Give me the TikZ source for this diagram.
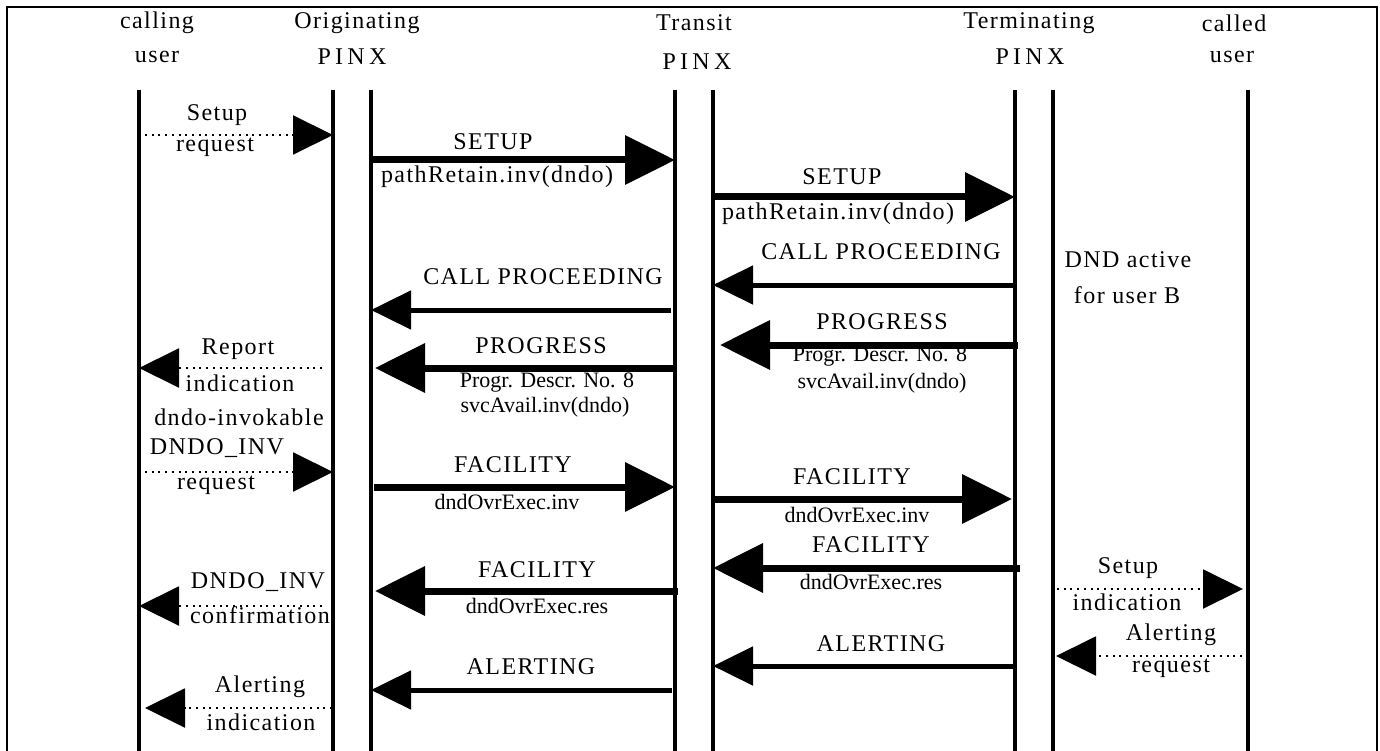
\documentclass[tikz,border=0pt]{standalone}
\usepackage{fontspec}
\setmainfont{Liberation Serif}
\newfontfamily\spcfont[LetterSpace=6]{Liberation Serif}
\newfontfamily\pinxfont[LetterSpace=18]{Liberation Serif}
\usetikzlibrary{arrows.meta,calc}

\begin{document}
\begin{tikzpicture}[
    x=1pt, y=-1pt,
    every node/.style={inner sep=0pt},
    lbl/.style={font=\fontsize{24}{27}\selectfont\spcfont},
    pinx/.style={font=\fontsize{24}{27}\selectfont\pinxfont},
    plain/.style={font=\fontsize{22}{25}\selectfont},
    life/.style={line width=4pt},
    bigmsg/.style={line width=7pt, -{Triangle[length=50pt,width=48pt]}},
    smallmsg/.style={line width=5pt, -{Triangle[length=40pt,width=38pt]}},
    prim/.style={line width=2pt, dash pattern=on 2pt off 4.7pt,
                 -{Triangle[length=40pt,width=39pt]}},
  ]

  \useasboundingbox (0,0) rectangle (1380,751);

  % ------------------------------------------------------------------
  % frame (open at the bottom) and column headings
  % ------------------------------------------------------------------
  \draw[line width=2pt] (7,751) -- (7,7) -- (1377,7) -- (1377,751);

  \node[lbl]  (hA1) at (157,23)  {calling};
  \node[lbl]  (hA2) at (157,57)  {user};
  \node[lbl]  (hO1) at (357,23)  {Originating};
  \node[pinx] (hO2) at (352,57)  {PINX};
  \node[lbl]  (hT1) at (694,23)  {Transit};
  \node[pinx] (hT2) at (697,62)  {PINX};
  \node[lbl]  (hE1) at (1029,23) {Terminating};
  \node[pinx] (hE2) at (1030,57) {PINX};
  \node[lbl]  (hB1) at (1234,23) {called};
  \node[lbl]  (hB2) at (1232,57) {user};

  % ------------------------------------------------------------------
  % lifelines
  % ------------------------------------------------------------------
  \coordinate (cA) at (139,90);   % calling user
  \coordinate (oL) at (333,90);   % originating PINX
  \coordinate (oR) at (371,90);
  \coordinate (tL) at (675,90);   % transit PINX
  \coordinate (tR) at (713,90);
  \coordinate (eL) at (1015,90);  % terminating PINX
  \coordinate (eR) at (1053,90);
  \coordinate (cB) at (1248,90);  % called user
  \foreach \l in {cA,oL,oR,tL,tR,eL,eR,cB}
    \draw[life] (\l) -- (\l |- 0,751);

  % ------------------------------------------------------------------
  % call set-up
  % ------------------------------------------------------------------
  \draw[prim] ($(cA |- 0,135)+(6,0)$) -- (oL |- 0,135);
  \node[lbl] (sr1) at (217,115) {Setup};
  \node[lbl] (sr2) at (215,147) {request};

  \draw[bigmsg] (oR |- 0,160) -- (tL |- 0,160);
  \node[lbl] (su1) at (493,142) {SETUP};
  \node[lbl] (su2) at (497,177) {pathRetain.inv(dndo)};

  \draw[bigmsg] (tR |- 0,197) -- (eL |- 0,197);
  \node[lbl] (su3) at (842,177) {SETUP};
  \node[lbl] (su4) at (838,214) {pathRetain.inv(dndo)};

  \node[lbl] (dnd1) at (1128,260) {DND active};
  \node[lbl] (dnd2) at (1127,295) {for user B};

  \draw[smallmsg] (eL |- 0,285) -- (tR |- 0,285);
  \node[lbl] (cp1) at (881,252) {CALL PROCEEDING};

  \draw[smallmsg] ($(tL |- 0,310)+(-4,0)$) -- (oR |- 0,310);
  \node[lbl] (cp2) at (543,277) {CALL PROCEEDING};

  % ------------------------------------------------------------------
  % progress with service availability
  % ------------------------------------------------------------------
  \draw[bigmsg] ($(eL |- 0,345)+(3,0)$) -- ($(tR |- 0,345)+(7,0)$);
  \node[lbl]   (pg1) at (882,322) {PROGRESS};
  \node[plain] (pg2) at (880,357) {Progr. Descr. No. 8};
  \node[plain] (pg3) at (882,383) {svcAvail.inv(dndo)};

  \draw[bigmsg] ($(tL |- 0,368)+(2,0)$) -- ($(oR |- 0,368)+(4,0)$);
  \node[lbl]   (pg4) at (541,346) {PROGRESS};
  \node[plain] (pg5) at (547,383) {Progr. Descr. No. 8};
  \node[plain] (pg6) at (545,407) {svcAvail.inv(dndo)};

  \draw[prim] ($(oL |- 0,368)+(-11,0)$) -- (cA |- 0,368);
  \node[lbl] (ri1) at (238,349) {Report};
  \node[lbl] (ri2) at (240,383) {indication};
  \node[lbl] (inv) at (239,417) {dndo-invokable};

  % ------------------------------------------------------------------
  % do-not-disturb override invocation
  % ------------------------------------------------------------------
  \draw[prim] ($(cA |- 0,472)+(6,0)$) -- (oL |- 0,472);
  \node[lbl] (dr1) at (217,448) {DNDO\_INV};
  \node[lbl] (dr2) at (216,485) {request};

  \draw[bigmsg] ($(oR |- 0,487)+(3,0)$) -- (tL |- 0,487);
  \node[lbl]   (fa1) at (513,465) {FACILITY};
  \node[plain] (fa2) at (507,502) {dndOvrExec.inv};

  \draw[bigmsg] (tR |- 0,499) -- ($(eL |- 0,499)+(-3,0)$);
  \node[lbl]   (fa3) at (852,477) {FACILITY};
  \node[plain] (fa4) at (857,515) {dndOvrExec.inv};

  \draw[bigmsg] ($(eL |- 0,568)+(5,0)$) -- (tR |- 0,568);
  \node[lbl]   (fa5) at (871,545) {FACILITY};
  \node[plain] (fa6) at (871,582) {dndOvrExec.res};

  \draw[bigmsg] ($(tL |- 0,591)+(3,0)$) -- ($(oR |- 0,591)+(4,0)$);
  \node[lbl]   (fa7) at (537,570) {FACILITY};
  \node[plain] (fa8) at (537,606) {dndOvrExec.res};

  \draw[prim] ($(oL |- 0,606)+(-11,0)$) -- (cA |- 0,606);
  \node[lbl] (dc1) at (258,582) {DNDO\_INV};
  \node[lbl] (dc2) at (260,615) {confirmation};

  % ------------------------------------------------------------------
  % called user alerted
  % ------------------------------------------------------------------
  \draw[prim] ($(eR |- 0,589)+(4,0)$) -- ($(cB |- 0,589)+(-5,0)$);
  \node[lbl] (si1) at (1128,568) {Setup};
  \node[lbl] (si2) at (1127,602) {indication};

  \draw[prim] ($(cB |- 0,656)+(-6,0)$) -- ($(eR |- 0,656)+(3,0)$);
  \node[lbl] (ar1) at (1171,635) {Alerting};
  \node[lbl] (ar2) at (1171,668) {request};

  \draw[smallmsg] ($(eL |- 0,666)+(-2,0)$) -- (tR |- 0,666);
  \node[lbl] (al1) at (881,644) {ALERTING};

  \draw[smallmsg] ($(tL |- 0,690)+(-3,0)$) -- (oR |- 0,690);
  \node[lbl] (al2) at (531,667) {ALERTING};

  \draw[prim] ($(oL |- 0,708)+(-1,0)$) -- ($(cA |- 0,708)+(6,0)$);
  \node[lbl] (ai1) at (260,687) {Alerting};
  \node[lbl] (ai2) at (261,722) {indication};

\end{tikzpicture}
\end{document}
